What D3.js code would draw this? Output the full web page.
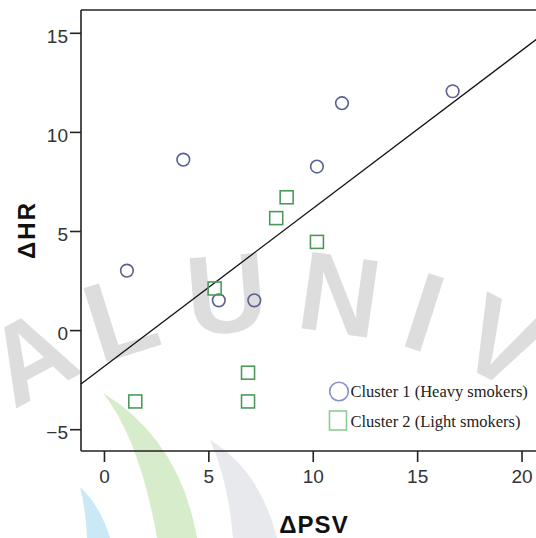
<!DOCTYPE html>
<html>
<head>
<meta charset="utf-8">
<script src="https://cdn.jsdelivr.net/npm/d3@7"></script>
<style>
  html, body { margin: 0; padding: 0; background: #fff; }
  svg { display: block; }
</style>
</head>
<body>
<svg id="chart" width="536" height="538"></svg>
<script>
// values
const cluster1Psv = [1.1, 3.8, 5.5, 7.2, 10.2, 11.4, 16.7];
const cluster1Hr = [3.0, 8.6, 1.5, 1.5, 8.25, 11.45, 12.05];
const cluster2Psv = [1.5, 5.3, 6.9, 6.9, 8.25, 8.75, 10.2];
const cluster2Hr = [-3.6, 2.1, -2.15, -3.6, 5.65, 6.7, 4.45];
const xTicks = [0, 5, 10, 15, 20];
const yTicks = [-5, 0, 5, 10, 15];
const fitIntercept = -1.84;
const fitSlope = 0.797;
const legendLabels = ["Cluster 1 (Heavy smokers)", "Cluster 2 (Light smokers)"];

const svg = d3.select("#chart");
const plotLeft = 81, plotRight = 544.5, plotTop = 10, plotBottom = 451;

const x = d3.scaleLinear().domain([-1.1, 21.1]).range([plotLeft, plotRight]);
const y = d3.scaleLinear().domain([-6.1, 16.15]).range([plotBottom, plotTop]);

// faint repository watermark behind everything
const wm = svg.append("g").attr("class", "watermark").attr("pointer-events", "none");
wm.append("path").attr("d", "M103,393 Q140,440 157,538 L197,538 Q180,440 103,393 Z").attr("fill", "#d6ecca");
wm.append("path").attr("d", "M80,487 Q86,510 87,538 L110,538 Q100,505 80,487 Z").attr("fill", "#cbe8f7");
wm.append("path").attr("d", "M210,440 Q228,480 233,538 L277,538 Q260,470 210,440 Z").attr("fill", "#e8e9ed");
const cx = 280, cy = 800, r = 470;
const a0 = -1.05, a1 = 1.1;
wm.append("path").attr("id", "wmArc").attr("fill", "none")
  .attr("d", `M${cx + r * Math.sin(a0)},${cy - r * Math.cos(a0)} A${r},${r} 0 0 1 ${cx + r * Math.sin(a1)},${cy - r * Math.cos(a1)}`);
const wmPath = wm.append("text")
  .attr("font-family", "Liberation Sans, Arial, sans-serif")
  .attr("font-weight", "bold")
  .attr("font-size", 112)
  .attr("fill", "#dddddd")
  .append("textPath")
  .attr("href", "#wmArc")
  .attr("startOffset", 212);
wmPath.append("tspan").attr("letter-spacing", 16).text("AL ");
wmPath.append("tspan").attr("letter-spacing", 24).attr("dx", -36).text("UNIVE");

// frame
const plot = svg.append("g");
plot.append("line").attr("x1", plotLeft).attr("x2", 540).attr("y1", plotTop).attr("y2", plotTop)
  .attr("stroke", "#222").attr("stroke-width", 1.6);

const xAxis = d3.axisBottom(x).tickValues(xTicks).tickSize(11).tickPadding(8);
const yAxis = d3.axisLeft(y).tickValues(yTicks).tickSize(11).tickPadding(2);

const gx = plot.append("g").attr("transform", `translate(0,${plotBottom})`).call(xAxis);
const gy = plot.append("g").attr("transform", `translate(${plotLeft},0)`).call(yAxis);
gx.select(".domain").attr("d", `M${plotLeft},0H540`);
gy.select(".domain").attr("d", `M0,${plotTop}V${plotBottom}`);
[gx, gy].forEach(g => {
  g.selectAll(".domain, .tick line").attr("stroke", "#222").attr("stroke-width", 1.6);
  g.selectAll("text")
    .attr("font-family", "Liberation Sans, Arial, sans-serif")
    .attr("font-size", 19)
    .attr("fill", "#333");
});
gy.selectAll("text").attr("dy", "0.5em");

// fit line
const xd = x.domain();
plot.append("line")
  .attr("x1", x(xd[0])).attr("y1", y(fitIntercept + fitSlope * xd[0]))
  .attr("x2", x(xd[1])).attr("y2", y(fitIntercept + fitSlope * xd[1]))
  .attr("stroke", "#111").attr("stroke-width", 1.3);

// points
plot.append("g").selectAll("circle")
  .data(cluster1Psv.map((v, i) => [v, cluster1Hr[i]]))
  .join("circle")
  .attr("cx", d => x(d[0])).attr("cy", d => y(d[1])).attr("r", 6.3)
  .attr("fill", "none").attr("stroke", "#596092").attr("stroke-width", 1.6);

const sq = 13;
plot.append("g").selectAll("rect")
  .data(cluster2Psv.map((v, i) => [v, cluster2Hr[i]]))
  .join("rect")
  .attr("x", d => x(d[0]) - sq / 2).attr("y", d => y(d[1]) - sq / 2)
  .attr("width", sq).attr("height", sq)
  .attr("fill", "none").attr("stroke", "#4b9a5c").attr("stroke-width", 1.6);

// legend
const legend = plot.append("g");
legend.append("circle").attr("cx", 339).attr("cy", 391.5).attr("r", 9.3)
  .attr("fill", "none").attr("stroke", "#8990c6").attr("stroke-width", 1.6);
legend.append("rect").attr("x", 329.5).attr("y", 411).attr("width", 17).attr("height", 19)
  .attr("fill", "none").attr("stroke", "#8ccd96").attr("stroke-width", 1.6);
legend.selectAll("text").data(legendLabels).join("text")
  .attr("x", 350.5).attr("y", (d, i) => 397.3 + i * 29.2)
  .attr("font-family", "Liberation Serif, Times New Roman, serif")
  .attr("font-size", 16.5)
  .attr("fill", "#222")
  .text(d => d);

// axis titles
svg.append("text")
  .attr("x", 314).attr("y", 533)
  .attr("text-anchor", "middle")
  .attr("font-family", "Liberation Sans, Arial, sans-serif")
  .attr("font-weight", "bold").attr("font-size", 24)
  .attr("letter-spacing", 1)
  .attr("fill", "#111")
  .text("ΔPSV");

svg.append("text")
  .attr("transform", "translate(35,230) rotate(-90)")
  .attr("text-anchor", "middle")
  .attr("font-family", "Liberation Sans, Arial, sans-serif")
  .attr("font-weight", "bold").attr("font-size", 24)
  .attr("letter-spacing", 2)
  .attr("fill", "#111")
  .text("ΔHR");
</script>
</body>
</html>
